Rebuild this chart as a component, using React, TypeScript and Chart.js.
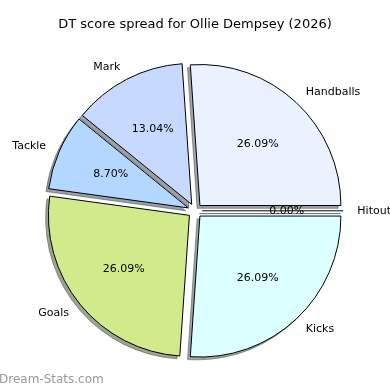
import React, { useEffect, useRef } from "react";
import { Chart, registerables } from "chart.js";

Chart.register(...registerables);

// Data in the reference's (counter-clockwise from 3 o'clock) order
const categories = ["Handballs", "Mark", "Tackle", "Goals", "Kicks", "Hitout"];
const scores = [6, 3, 2, 6, 6, 0];
const sliceColors = ["#eaf2ff", "#c7d9ff", "#b4d7ff", "#d1eb8c", "#dcffff", "#c8e6ff"];
const titleText = "DT score spread for Ollie Dempsey (2026)";
const watermark = "Dream-Stats.com";

const RADIUS = 141;
const EXPLODE = 7.2;
const SHADOW = 2.8;
const FONT = "DejaVu Sans, Verdana, sans-serif";

function shadowColor(hex: string) {
  const n = parseInt(hex.slice(1), 16);
  const r = Math.round(((n >> 16) & 255) * 0.3);
  const g = Math.round(((n >> 8) & 255) * 0.3);
  const b = Math.round((n & 255) * 0.3);
  return `rgba(${r},${g},${b},0.5)`;
}

const piePlugin = {
  id: "mplPie",
  beforeDatasetDraw(chart: any, args: any) {
    const ctx: CanvasRenderingContext2D = chart.ctx;
    const meta = chart.getDatasetMeta(args.index);
    const arcs = meta.data as any[];
    const colors = chart.data.datasets[args.index].backgroundColor as string[];
    const geo = arcs.map((a) => {
      const mid = (a.startAngle + a.endAngle) / 2;
      return { a, mid, dx: Math.cos(mid) * EXPLODE, dy: Math.sin(mid) * EXPLODE };
    });
    // shadows
    geo.forEach(({ a, dx, dy }, i) => {
      const x = a.x + dx - SHADOW;
      const y = a.y + dy + SHADOW;
      ctx.save();
      ctx.fillStyle = shadowColor(colors[i]);
      ctx.strokeStyle = shadowColor(colors[i]);
      ctx.lineWidth = 1;
      ctx.beginPath();
      ctx.moveTo(x, y);
      ctx.arc(x, y, a.outerRadius, a.startAngle, a.endAngle);
      ctx.closePath();
      if (a.endAngle - a.startAngle > 0) ctx.fill();
      ctx.stroke();
      ctx.restore();
    });
    // wedges
    geo.forEach(({ a, dx, dy }) => {
      ctx.save();
      ctx.translate(dx, dy);
      if (a.endAngle - a.startAngle > 0) {
        a.draw(ctx, chart.chartArea);
      } else {
        ctx.strokeStyle = "#000";
        ctx.lineWidth = 1;
        ctx.beginPath();
        ctx.moveTo(a.x, a.y);
        ctx.lineTo(a.x + Math.cos(a.startAngle) * a.outerRadius, a.y + Math.sin(a.startAngle) * a.outerRadius);
        ctx.stroke();
      }
      ctx.restore();
    });
    return false;
  },
  afterDatasetsDraw(chart: any) {
    const ctx: CanvasRenderingContext2D = chart.ctx;
    const meta = chart.getDatasetMeta(0);
    const arcs = meta.data as any[];
    const values = chart.data.datasets[0].data as number[];
    const labels = chart.data.labels as string[];
    const total = values.reduce((s, v) => s + v, 0);
    ctx.save();
    ctx.font = `11px ${FONT}`;
    ctx.fillStyle = "#000";
    ctx.textBaseline = "middle";
    arcs.forEach((a, i) => {
      const mid = (a.startAngle + a.endAngle) / 2;
      const cx = a.x + Math.cos(mid) * EXPLODE;
      const cy = a.y + Math.sin(mid) * EXPLODE;
      const c = Math.cos(mid);
      const s = Math.sin(mid);
      const lx = cx + 1.1 * a.outerRadius * c;
      const ly = cy + 1.1 * a.outerRadius * s;
      ctx.textAlign = c > 1e-9 ? "left" : "right";
      ctx.fillText(labels[i], lx, ly);
      const px = cx + 0.6 * a.outerRadius * c;
      const py = cy + 0.6 * a.outerRadius * s;
      ctx.textAlign = "center";
      ctx.fillText(((values[i] / total) * 100).toFixed(2) + "%", px, py);
    });
    ctx.font = `12px ${FONT}`;
    ctx.fillStyle = "#999999";
    ctx.textAlign = "left";
    ctx.fillText(watermark, -1, 380);
    ctx.restore();
  },
};

export default function App() {
  const ref = useRef<HTMLCanvasElement | null>(null);
  useEffect(() => {
    document.body.style.margin = "0";
    if (!ref.current) return;
    // Chart.js draws clockwise, reference is counter-clockwise -> reverse
    const labels = [...categories].reverse();
    const data = [...scores].reverse();
    const colors = [...sliceColors].reverse();
    const chart = new Chart(ref.current, {
      type: "pie",
      data: {
        labels,
        datasets: [
          {
            data,
            backgroundColor: colors,
            borderColor: "#000",
            borderWidth: 1,
            hoverOffset: 0,
          },
        ],
      },
      options: {
        responsive: false,
        animation: false,
        rotation: 90,
        radius: RADIUS,
        events: [],
        layout: { padding: { top: 0, left: 0, right: 0, bottom: 1 } },
        plugins: {
          legend: { display: false },
          tooltip: { enabled: false },
          title: {
            display: true,
            text: titleText,
            color: "#000",
            font: { family: FONT, size: 13, weight: "normal", lineHeight: 1.2 },
            padding: { top: 17, bottom: 0 },
          },
        },
      },
      plugins: [piePlugin],
    });
    return () => chart.destroy();
  }, []);
  return (
    <div style={{ position: "fixed", left: 0, top: 0, width: 390, height: 390, background: "#fff" }}>
      <canvas ref={ref} width={390} height={390} style={{ width: 390, height: 390 }} />
    </div>
  );
}
